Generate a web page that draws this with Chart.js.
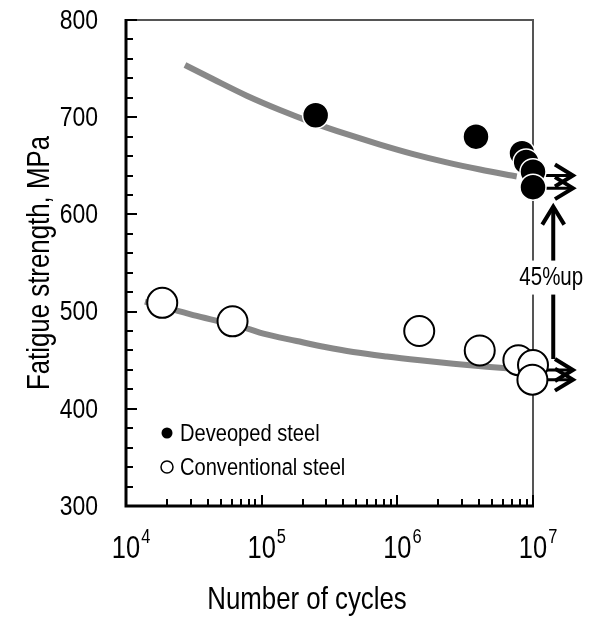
<!DOCTYPE html>
<html>
<head>
<meta charset="utf-8">
<script src="https://cdn.jsdelivr.net/npm/chart.js@4.4.1/dist/chart.umd.min.js"></script>
<style>
  html, body { margin: 0; padding: 0; background: #fff; }
</style>
</head>
<body>
<canvas id="sn" width="597" height="619"></canvas>
<script>
// Arial-like face, squeezed horizontally to get a narrow look
const FONT = "'Liberation Sans', Arial, sans-serif";
const NARROW = 0.82;

// developed steel, filled markers
const devCycles = [2.5e5, 3.8e6, 8.3e6, 8.9e6, 1.0e7, 1.0e7];
const devStrength = [702, 680, 663, 654, 644, 628];

// conventional steel, open markers
const convCycles = [1.85e4, 6.1e4, 1.45e6, 4.05e6, 7.8e6, 1.0e7, 0.99e7];
const convStrength = [509, 490, 480, 460, 450, 445, 430];

// S-N fit lines
const devFitCycles = [2.72e4, 4.4e4, 7.76e4, 1.365e5, 2.4e5, 4.24e5, 7.45e5, 1.31e6, 2.31e6, 4.07e6, 7.59e6];
const devFitStrength = [753.7, 739, 722.1, 707.4, 694.2, 682.5, 671.9, 662.1, 653.6, 646.2, 639];
const convFitCycles = [1.38e4, 2.3e4, 3.32e4, 7.76e4, 1.03e5, 1.81e5, 2.93e5, 4.73e5, 8.35e5, 1.47e6, 2.59e6, 4.56e6, 7.59e6];
const convFitStrength = [510.2, 501.6, 495.6, 482.8, 477.3, 469.8, 463.6, 458.4, 453.8, 449.9, 446.4, 443.3, 440.9];

// run-out arrows (no failure at 10^7)
const runoutStrength = [640, 627, 440, 430];
const runoutFrom = 1.0e7;
const runoutTip = 1.97e7;

// improvement arrow between the two steels
const upCycles = 1.41e7;
const upTop = 608;
const upBaseArrow = 2;        // index in runoutStrength the shaft starts from
const upLabel = '45%up';
const upLabelAt = 535;

const yTicks = [300, 400, 500, 600, 700, 800];
const yMinorStep = 20;
const xExponents = [4, 5, 6, 7];
const legendLabels = ['Deveoped steel', 'Conventional steel'];
const xTitle = 'Number of cycles';
const yTitle = 'Fatigue strength, MPa';

const toXY = (xs, ys) => xs.map((x, i) => ({ x: x, y: ys[i] }));

function narrowText(ctx, str, x, y, size, align) {
  ctx.save();
  ctx.translate(x, y);
  ctx.scale(NARROW, 1);
  ctx.font = `${size}px ${FONT}`;
  ctx.textAlign = align;
  ctx.fillText(str, 0, 0);
  ctx.restore();
}

function narrowWidth(ctx, str, size) {
  ctx.save();
  ctx.font = `${size}px ${FONT}`;
  const w = ctx.measureText(str).width * NARROW;
  ctx.restore();
  return w;
}

function arrowHead(ctx, tx, ty, dir) {
  // open chevron, dir = 'right' or 'up'
  ctx.beginPath();
  if (dir === 'right') {
    ctx.moveTo(tx - 18, ty - 11);
    ctx.lineTo(tx, ty);
    ctx.lineTo(tx - 18, ty + 11);
  } else {
    ctx.moveTo(tx - 11, ty + 18);
    ctx.lineTo(tx, ty);
    ctx.lineTo(tx + 11, ty + 18);
  }
  ctx.stroke();
}

const frame = {
  id: 'frame',
  beforeDatasetsDraw(chart) {
    const { ctx, chartArea: a, scales: { x, y } } = chart;
    ctx.save();
    ctx.lineCap = 'butt';

    // thin top and right edges
    ctx.strokeStyle = '#555';
    ctx.lineWidth = 2;
    ctx.beginPath();
    ctx.moveTo(a.left, a.top);
    ctx.lineTo(a.right, a.top);
    ctx.lineTo(a.right, a.bottom);
    ctx.stroke();

    // inward tick marks
    ctx.strokeStyle = '#000';
    ctx.lineWidth = 2;
    ctx.beginPath();
    for (let v = yTicks[0]; v <= yTicks[yTicks.length - 1]; v += yMinorStep) {
      const py = Math.round(y.getPixelForValue(v));
      const len = yTicks.includes(v) ? 11 : 7;
      ctx.moveTo(a.left, py);
      ctx.lineTo(a.left + len, py);
    }
    for (let i = 0; i < xExponents.length; i++) {
      const e = xExponents[i];
      const major = Math.round(x.getPixelForValue(Math.pow(10, e)));
      ctx.moveTo(major, a.bottom);
      ctx.lineTo(major, a.bottom - 11);
      if (i === xExponents.length - 1) break;
      for (let m = 2; m <= 9; m++) {
        const px = Math.round(x.getPixelForValue(m * Math.pow(10, e)));
        ctx.moveTo(px, a.bottom);
        ctx.lineTo(px, a.bottom - 7);
      }
    }
    ctx.stroke();

    // heavy left and bottom axes
    ctx.lineWidth = 3;
    ctx.beginPath();
    ctx.moveTo(a.left, a.top - 1);
    ctx.lineTo(a.left, a.bottom);
    ctx.lineTo(a.right + 1, a.bottom);
    ctx.stroke();

    // run-out arrows
    const tipX = x.getPixelForValue(runoutTip);
    const fromX = x.getPixelForValue(runoutFrom);
    runoutStrength.forEach(v => {
      const py = y.getPixelForValue(v);
      ctx.lineWidth = 3;
      ctx.beginPath();
      ctx.moveTo(fromX, py);
      ctx.lineTo(tipX - 2, py);
      ctx.stroke();
      ctx.lineWidth = 4;
      arrowHead(ctx, tipX, py, 'right');
    });

    // vertical improvement arrow
    const ux = x.getPixelForValue(upCycles);
    const baseY = y.getPixelForValue(runoutStrength[upBaseArrow]) - 11;
    const topY = y.getPixelForValue(upTop);
    ctx.lineWidth = 4;
    ctx.beginPath();
    ctx.moveTo(ux, baseY);
    ctx.lineTo(ux, topY + 2);
    ctx.stroke();
    arrowHead(ctx, ux, topY, 'up');

    // label on a white patch
    const ly = y.getPixelForValue(upLabelAt);
    const w = narrowWidth(ctx, upLabel, 25);
    ctx.fillStyle = '#fff';
    ctx.fillRect(ux - w / 2 - 2, ly - 17, w + 4, 34);
    ctx.fillStyle = '#000';
    ctx.textBaseline = 'middle';
    narrowText(ctx, upLabel, ux - 2, ly + 1, 25, 'center');
    ctx.restore();
  },
  afterDraw(chart) {
    const { ctx, chartArea: a, scales: { x, y } } = chart;
    ctx.save();
    ctx.fillStyle = '#000';
    ctx.strokeStyle = '#000';

    // y tick labels
    ctx.textBaseline = 'middle';
    yTicks.forEach(v => narrowText(ctx, String(v), a.left - 28, y.getPixelForValue(v) + 1, 28, 'right'));

    // x tick labels as powers of ten
    ctx.textBaseline = 'alphabetic';
    xExponents.forEach(e => {
      const px = x.getPixelForValue(Math.pow(10, e));
      const w = narrowWidth(ctx, '10', 31);
      narrowText(ctx, '10', px - w / 2, a.bottom + 52, 31, 'left');
      narrowText(ctx, String(e), px + w / 2 + 1, a.bottom + 37, 20, 'left');
    });

    // axis titles
    ctx.textBaseline = 'middle';
    narrowText(ctx, xTitle, 307, a.bottom + 94, 31.5, 'center');
    ctx.save();
    ctx.translate(40, 263);
    ctx.rotate(-Math.PI / 2);
    narrowText(ctx, yTitle, 0, 0, 31.5, 'center');
    ctx.restore();

    // legend
    const lx = 167, ly0 = 433, ly1 = 467;
    ctx.beginPath();
    ctx.arc(lx, ly0, 5.5, 0, Math.PI * 2);
    ctx.fill();
    narrowText(ctx, legendLabels[0], lx + 13, ly0 + 1, 24.5, 'left');
    ctx.lineWidth = 1.5;
    ctx.beginPath();
    ctx.arc(lx, ly1, 6, 0, Math.PI * 2);
    ctx.stroke();
    narrowText(ctx, legendLabels[1], lx + 13, ly1 + 1, 24.5, 'left');
    ctx.restore();
  }
};

new Chart(document.getElementById('sn'), {
  type: 'scatter',
  data: {
    datasets: [
      {
        label: legendLabels[0],
        data: toXY(devCycles, devStrength),
        pointRadius: 13,
        backgroundColor: '#000',
        borderColor: '#fff',
        borderWidth: 1.5,
        clip: false,
        order: 1
      },
      {
        label: legendLabels[1],
        data: toXY(convCycles, convStrength),
        pointRadius: 15,
        backgroundColor: '#fff',
        borderColor: '#000',
        borderWidth: 2,
        clip: false,
        order: 2
      },
      {
        type: 'line',
        data: toXY(devFitCycles, devFitStrength),
        borderColor: '#888',
        borderWidth: 6,
        pointRadius: 0,
        cubicInterpolationMode: 'monotone',
        order: 3
      },
      {
        type: 'line',
        data: toXY(convFitCycles, convFitStrength),
        borderColor: '#888',
        borderWidth: 6,
        pointRadius: 0,
        cubicInterpolationMode: 'monotone',
        order: 4
      }
    ]
  },
  options: {
    responsive: false,
    animation: false,
    layout: { padding: { left: 126, right: 64, top: 20, bottom: 113 } },
    plugins: { legend: { display: false }, tooltip: { enabled: false } },
    scales: {
      x: { type: 'logarithmic', min: 1e4, max: 1e7, display: false },
      y: { min: 300, max: 800, display: false }
    }
  },
  plugins: [frame]
});
</script>
</body>
</html>
